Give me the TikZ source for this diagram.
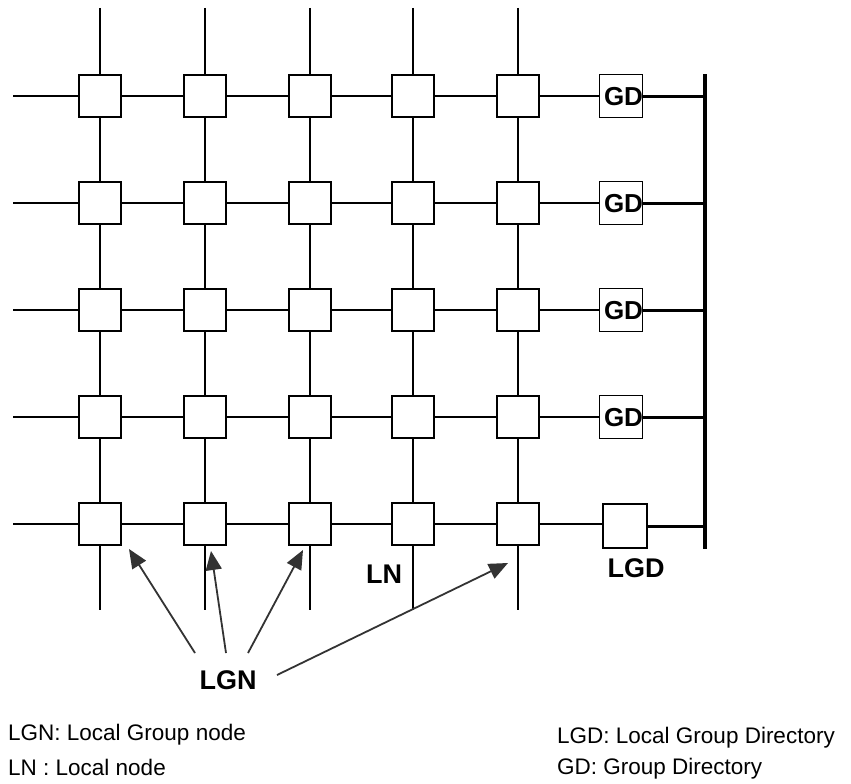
\documentclass[tikz,border=0pt]{standalone}
\usepackage{fontspec}
\setmainfont{Liberation Sans}
\usetikzlibrary{arrows.meta}
\begin{document}
\begin{tikzpicture}[x=1pt,y=-1pt,
  box/.style={draw, fill=white, line width=1.6pt, minimum size=42pt, inner sep=0pt},
  gdbox/.style={draw, fill=white, line width=1.6pt, minimum size=43pt, inner sep=0pt},
  gdtext/.style={font=\fontsize{26}{26}\selectfont\bfseries, inner sep=0pt},
  wire/.style={line width=1.6pt},
  thick wire/.style={line width=3pt},
  lbl/.style={font=\fontsize{27}{27}\selectfont\bfseries, inner sep=0pt},
  legend/.style={font=\fontsize{22.5}{22.5}\selectfont, inner sep=0pt, anchor=west},
  ptr/.style={line width=1.8pt, -{Triangle[length=19pt,width=16pt]}, draw=black!80, fill=black!80}
]
\fill[white] (0,0) rectangle (851,784);
\useasboundingbox (0,0) rectangle (851,784);

\def\cols{{100,205,310,413,518}}
\def\rows{{96,203,310,417,524}}

\foreach \r in {1,...,5}{
  \foreach \c in {1,...,5}{
    \pgfmathsetmacro{\xx}{\cols[\c-1]}
    \pgfmathsetmacro{\yy}{\rows[\r-1]}
    \coordinate (p\r\c) at (\xx,\yy);
  }
  \pgfmathsetmacro{\yy}{\rows[\r-1]}
  \coordinate (l\r) at (13,\yy);
  \coordinate (g\r) at (621,\yy);
}
\foreach \c in {1,...,5}{
  \pgfmathsetmacro{\xx}{\cols[\c-1]}
  \coordinate (t\c) at (\xx,8);
  \coordinate (u\c) at (\xx,610);
}
\coordinate (bustop) at (705,74);
\coordinate (busbot) at (705,549);

% wires behind boxes
\foreach \c in {1,...,5}{
  \draw[wire] (t\c) -- (u\c);
}
\foreach \r in {1,...,5}{
  \draw[wire] (l\r) -- (g\r);
}

\foreach \r in {1,...,5}{
  \foreach \c in {1,...,5}{
    \node[box] (b\r\c) at (p\r\c) {};
  }
}

% group directories
\foreach \r in {1,...,4}{
  \node[gdbox] (gd\r) at (g\r) {};
  \draw[thick wire] (gd\r.east) -- (gd\r.east -| bustop);
  \node[gdtext] at ([xshift=2.5pt,yshift=-1pt]gd\r.center) {GD};
}
\node[gdbox, minimum size=44pt] (lgd) at (625,526) {};
\draw[thick wire] (lgd.east) -- (lgd.east -| bustop);

\draw[line width=3.5pt] (bustop) -- (busbot);

% labels
\node[lbl] (lgdl) at (636,568) {LGD};
\node[lbl] (lnl) at (384,574) {LN};
\node[lbl] (lgn) at (228,680) {LGN};

% arrows
\coordinate (s1) at (195,653);
\coordinate (s2) at (226,653);
\coordinate (s3) at (248,653);
\coordinate (s4) at (277,675);
\coordinate (a1) at (129,549);
\coordinate (a2) at (211,551);
\coordinate (a3) at (303,550);
\coordinate (a4) at (508,563);
\draw[ptr] (s1) -- (a1);
\draw[ptr] (s2) -- (a2);
\draw[ptr] (s3) -- (a3);
\draw[ptr] (s4) -- (a4);

% legend
\node[legend] (lg1) at (8,735) {LGN: Local Group node};
\node[legend] (lg2) at (8,767) {LN : Local node};
\node[legend] (lg3) at (557,738) {LGD: Local Group Directory};
\node[legend] (lg4) at (557,769) {GD: Group Directory};
\end{tikzpicture}
\end{document}
